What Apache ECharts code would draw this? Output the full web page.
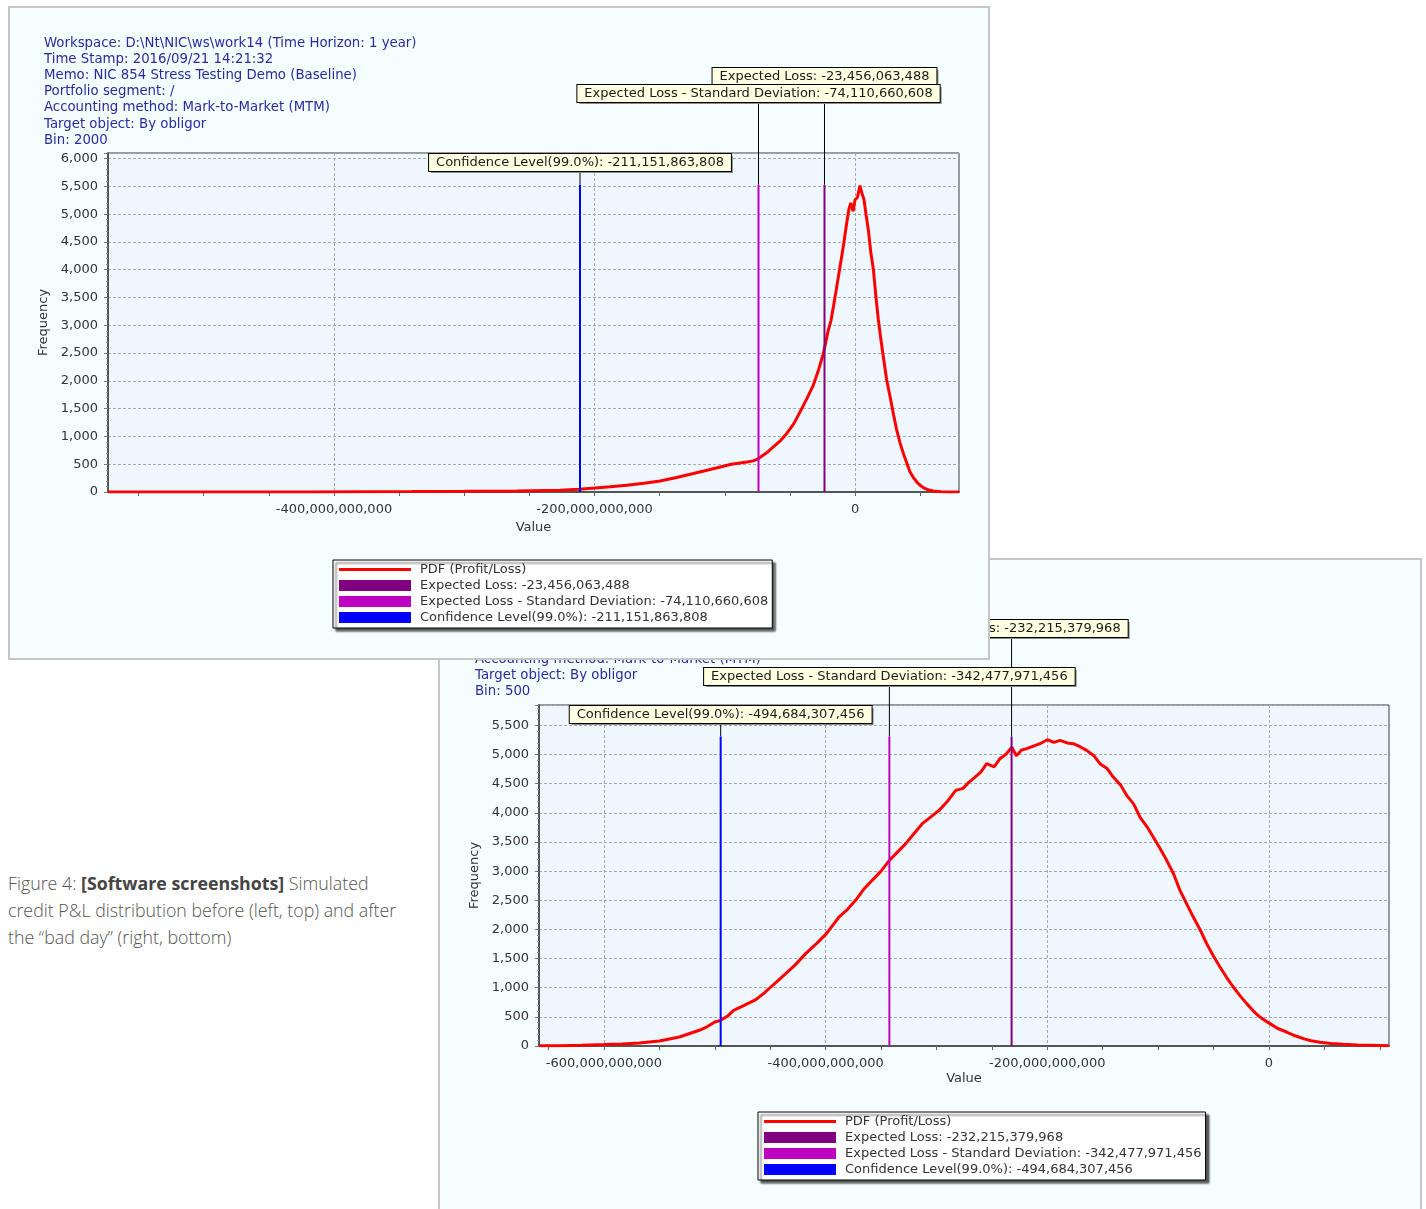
<!DOCTYPE html>
<html>
<head>
<meta charset="utf-8">
<script src="https://cdn.jsdelivr.net/npm/echarts@6/dist/echarts.min.js"></script>
<style>
html,body{margin:0;padding:0;width:1426px;height:1209px;overflow:hidden;background:#ffffff;}
.win{position:absolute;box-sizing:border-box;border:2px solid #c6c6c6;background:#f4fefe;}
#winTop{left:8px;top:6px;width:982px;height:654px;z-index:2;}
#winBottom{left:438px;top:558px;width:984px;height:700px;z-index:1;}
.chart{position:absolute;left:0;top:0;width:100%;height:100%;}
#caption{position:absolute;left:8px;top:870px;width:430px;white-space:nowrap;font-family:'Open Sans',sans-serif;font-size:17.8px;line-height:27px;color:#555;font-weight:300;}
#caption b{font-weight:700;color:#444;}
</style>
</head>
<body>
<div class="win" id="winBottom"><div class="chart" id="chartBottom"></div></div>
<div class="win" id="winTop"><div class="chart" id="chartTop"></div></div>
<div id="caption">Figure 4: <b>[Software screenshots]</b> Simulated<br>credit P&amp;L distribution before (left, top) and after<br>the “bad day” (right, bottom)</div>
<script>
// ---------------- DATA (values in billions on the x axis) ----------------
const topHeader = [
  'Workspace: D:\\Nt\\NIC\\ws\\work14 (Time Horizon: 1 year)',
  'Time Stamp: 2016/09/21 14:21:32',
  'Memo: NIC 854 Stress Testing Demo (Baseline)',
  'Portfolio segment: /',
  'Accounting method: Mark-to-Market (MTM)',
  'Target object: By obligor',
  'Bin: 2000'
];
const bottomHeader = [
  'Accounting method: Mark-to-Market (MTM)',
  'Target object: By obligor',
  'Bin: 500'
];

const topValue = [-573.5,-520,-470,-420,-380,-340,-300,-260,-226.5,-212,-199.6,-188,-175.3,-162,-149.7,-137,-124.1,-112,-101.1,-95,-88.3,-83,-78.1,-75,-71.7,-67,-62.7,-57,-52.4,-47,-42.2,-37,-32,-28,-24.3,-20.5,-18.5,-16.6,-14,-11.5,-9,-6.4,-4.8,-3.3,-1.5,0,1.8,3.8,5.2,6.9,8.5,10.2,12,14.1,16,17.9,19.8,21.7,24.3,26.9,29.5,32,34.6,37.1,39.7,42.2,44.8,47.4,50,52.4,56,60.1,66,72,79.8];
const topFreq  = [0,0,1,2,4,7,12,20,31,50,72,95,121,158,198,262,332,400,463,500,523,540,560,590,644,720,811,930,1053,1230,1442,1680,1924,2200,2495,2915,3080,3336,3700,4057,4420,4839,5080,5200,5050,5259,5300,5512,5380,5259,4980,4718,4330,3997,3520,3096,2750,2434,2014,1713,1400,1112,880,692,520,361,260,180,120,79,40,18,6,2,0];

const bottomValue = [-658.6,-640,-620,-600,-584,-568,-550,-532,-514,-507,-500,-494.7,-488,-483,-473,-463,-456,-449.5,-443,-436,-427,-418,-408,-399.3,-394,-388,-380,-373,-366,-358,-350,-342.5,-335,-327.7,-320,-312.8,-305,-297.7,-290,-282.6,-276,-270.6,-266.7,-260,-254.7,-248,-242.7,-237,-232,-228,-223,-218.6,-212,-206.6,-200,-194,-188.5,-182,-176.5,-170,-164.5,-158,-152.5,-146,-140.5,-134,-128.4,-122,-116.4,-110,-104.4,-98,-92.3,-86,-80.3,-74,-68.3,-62,-56.2,-50,-44.2,-38,-32.2,-26,-20.1,-14,-8.1,-3,0.9,8,16,23,31,38,46,56,66.8,80,100,108.3];
const bottomFreq  = [3,6,12,25,36,50,86,154,270,330,412,440,520,612,700,796,900,1012,1120,1241,1400,1585,1760,1928,2060,2212,2350,2499,2680,2842,3000,3185,3330,3471,3650,3814,3930,4042,4200,4385,4420,4528,4586,4700,4843,4790,4929,5010,5128,4980,5080,5100,5150,5186,5254,5210,5243,5200,5186,5130,5071,4980,4843,4760,4614,4480,4300,4150,3928,3760,3585,3380,3185,2950,2670,2430,2212,1990,1756,1540,1355,1170,1012,860,727,600,497,430,384,300,240,180,127,90,63,42,29,18,10,5];

const markerNames = ['Expected Loss', 'Expected Loss - Standard Deviation', 'Confidence Level(99.0%)'];
const topMarkerValue = [-23456063488, -74110660608, -211151863808];
const topMarkerPeak = [5530, 5530, 5530];
const bottomMarkerValue = [-232215379968, -342477971456, -494684307456];
const bottomMarkerPeak = [5310, 5310, 5310];

const topXRange = [-573.5, 79.8];
const topYMax = 6100;
const topXTicks = [-550,-500,-450,-400,-350,-300,-250,-200,-150,-100,-50,0,50];
const topXLabels = [-400,-200,0];
const topXGrid = [-400,-200,0];

const bottomXRange = [-658.6, 108.3];
const bottomYMax = 5850;
const bottomXTicks = [-650,-600,-550,-500,-450,-400,-350,-300,-250,-200,-150,-100,-50,0,50,100];
const bottomXLabels = [-600,-400,-200,0];
const bottomXGrid = [-600,-400,-200,0];

// ---------------- STYLE / LAYOUT ----------------
const FONT = '"DejaVu Sans", Verdana, sans-serif';
const markerColors = ['#800080', '#c000c0', '#0000ff'];
const fmtNum = v => Math.round(v).toLocaleString('en-US');
const fmtAxis = v => (Math.round(v * 1e9)).toLocaleString('en-US');

function markerSeries(label, color, dy) {
  return function (params, api) {
    const x = api.value(0), peak = api.value(1);
    const p0 = api.coord([x, 0]);
    const p1 = api.coord([x, peak]);
    const by = params.coordSys.y + dy;
    const base = {
      text: label, x: p1[0], y: by, align: 'center', verticalAlign: 'bottom',
      font: '13px ' + FONT, padding: [2, 7, 2, 7]
    };
    return {
      type: 'group',
      children: [
        { type: 'line', z2: 1, shape: { x1: p1[0], y1: p1[1], x2: p1[0], y2: by }, style: { stroke: '#000', lineWidth: 1 } },
        { type: 'line', z2: 2, shape: { x1: p0[0], y1: p0[1], x2: p1[0], y2: p1[1] }, style: { stroke: color, lineWidth: 2 } },
        { type: 'text', z2: 10, x: 2, y: 2, style: Object.assign({}, base, { fill: 'rgba(0,0,0,0)', backgroundColor: '#8c8c8c' }) },
        { type: 'text', z2: 11, style: Object.assign({}, base, { fill: '#1a1a1a', backgroundColor: '#ffffe1', borderColor: '#000', borderWidth: 1 }) }
      ]
    };
  };
}

function buildOption(cfg) {
  const series = [{
    name: 'PDF (Profit/Loss)', type: 'line', symbol: 'none', showSymbol: false,
    data: cfg.xs.map((v, i) => [v, cfg.ys[i]]),
    lineStyle: { color: '#ff0000', width: 3 }, itemStyle: { color: '#ff0000' },
    silent: true, clip: true, z: 3
  }];
  const legendData = [{ name: 'PDF (Profit/Loss)', icon: 'path://M0,0M0,4L72,4L72,7L0,7ZM72,11' }];
  markerNames.forEach((n, i) => {
    const label = n + ': ' + fmtNum(cfg.markers[i]);
    series.push({
      name: label, type: 'custom', coordinateSystem: 'cartesian2d',
      data: [[cfg.markers[i] / 1e9, cfg.peaks[i]]],
      itemStyle: { color: markerColors[i] }, silent: true, z: 4,
      renderItem: markerSeries(label, markerColors[i], cfg.labelDy[i])
    });
    legendData.push({ name: label, icon: 'rect' });
  });
  return {
    animation: false,
    textStyle: { fontFamily: FONT },
    grid: Object.assign({ show: true, backgroundColor: '#eff7fe', borderColor: '#3a3a3a', borderWidth: 1, containLabel: false, outerBoundsMode: 'none' }, cfg.grid),
    graphic: [{
      type: 'text', left: cfg.headerPos[0], top: cfg.headerPos[1], z: 1,
      style: { text: cfg.header.join('\n'), font: '13.3px ' + FONT, fill: '#2a2aa0', lineHeight: 16.2 }
    }],
    legend: {
      orient: 'vertical', left: cfg.legendPos[0], top: cfg.legendPos[1],
      itemWidth: 72, itemHeight: 11, itemGap: 3, padding: [3, 4, 4, 6],
      backgroundColor: '#ffffff', borderColor: '#000', borderWidth: 1,
      shadowColor: 'rgba(0,0,0,0.65)', shadowBlur: 2, shadowOffsetX: 3, shadowOffsetY: 3,
      selectedMode: false,
      textStyle: { color: '#333', fontSize: 13, fontFamily: FONT, padding: [0, 0, 0, 4] },
      data: legendData
    },
    xAxis: [{
      type: 'value', min: cfg.xRange[0], max: cfg.xRange[1],
      axisLine: { show: true, onZero: false, lineStyle: { color: '#555', width: 2 } },
      axisTick: { show: true, customValues: cfg.xTicks, length: 4, lineStyle: { color: '#666' } },
      axisLabel: { customValues: cfg.xLabels, formatter: fmtAxis, margin: 11, color: '#333', fontSize: 13, fontFamily: FONT },
      splitLine: { show: false },
      name: 'Value', nameLocation: 'middle', nameGap: cfg.xNameGap,
      nameTextStyle: { color: '#333', fontSize: 13, fontFamily: FONT }
    }, {
      type: 'value', min: cfg.xRange[0], max: cfg.xRange[1], position: 'bottom',
      axisLine: { show: false, onZero: false }, axisLabel: { show: false },
      axisTick: { show: false, customValues: cfg.xGrid },
      splitLine: { show: true, lineStyle: { color: '#a8a8a8', type: [3, 2], width: 1 } }
    }],
    yAxis: {
      type: 'value', min: 0, max: cfg.yMax, interval: 500,
      axisLine: { show: true, onZero: false, lineStyle: { color: '#555', width: 2 } },
      axisTick: { show: true, length: 4, lineStyle: { color: '#777' } },
      minorTick: { show: true, splitNumber: 5, length: 2, lineStyle: { color: '#999' } },
      axisLabel: { formatter: v => fmtNum(v), showMaxLabel: false, margin: 10, color: '#333', fontSize: 13, fontFamily: FONT },
      splitLine: { show: true, lineStyle: { color: '#a8a8a8', type: [3, 2], width: 1 } },
      name: 'Frequency', nameLocation: 'middle', nameGap: 55, nameRotate: 90,
      nameTextStyle: { color: '#333', fontSize: 13, fontFamily: FONT }
    },
    series: series
  };
}

const topChart = echarts.init(document.getElementById('chartTop'), null, { renderer: 'canvas' });
topChart.setOption(buildOption({
  header: topHeader, headerPos: [34, 27],
  xs: topValue, ys: topFreq,
  markers: topMarkerValue, peaks: topMarkerPeak, labelDy: [-68, -51, 18],
  xRange: topXRange, yMax: topYMax, xTicks: topXTicks, xLabels: topXLabels, xGrid: topXGrid,
  grid: { left: 98, top: 145, width: 851, height: 339 }, xNameGap: 27,
  legendPos: [323, 552]
}));

const bottomChart = echarts.init(document.getElementById('chartBottom'), null, { renderer: 'canvas' });
bottomChart.setOption(buildOption({
  header: bottomHeader, headerPos: [35, 91],
  xs: bottomValue, ys: bottomFreq,
  markers: bottomMarkerValue, peaks: bottomMarkerPeak, labelDy: [-68, -20, 18],
  xRange: bottomXRange, yMax: bottomYMax, xTicks: bottomXTicks, xLabels: bottomXLabels, xGrid: bottomXGrid,
  grid: { left: 99, top: 145, width: 850, height: 341 }, xNameGap: 26,
  legendPos: [318, 552]
}));
</script>
</body>
</html>
